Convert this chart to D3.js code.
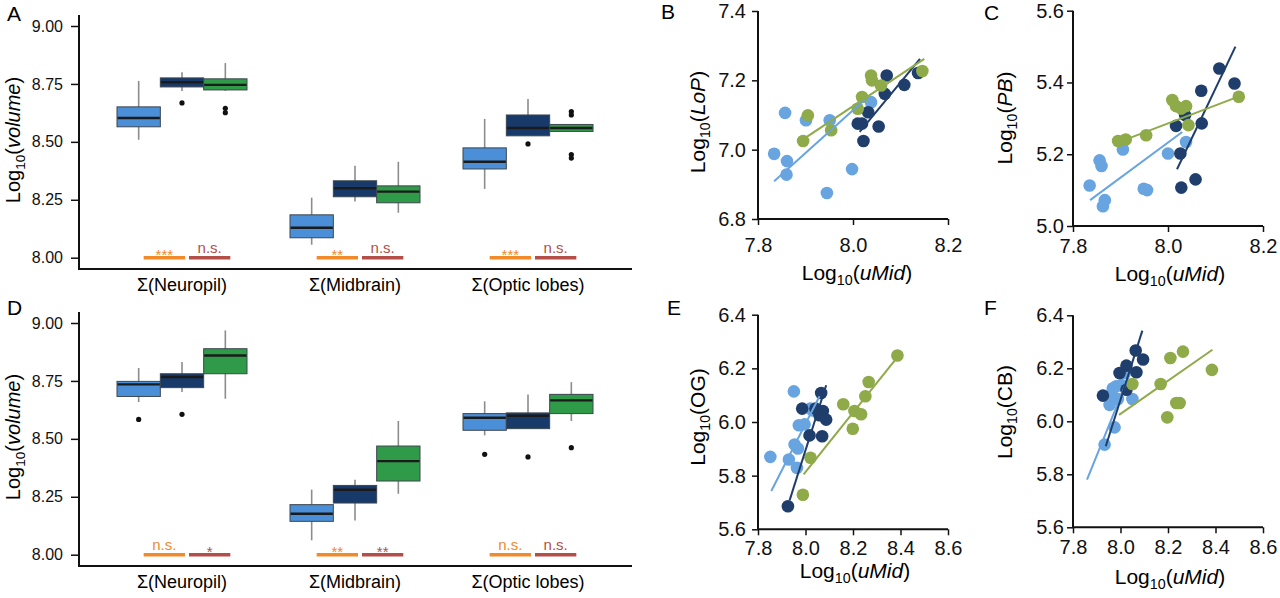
<!DOCTYPE html>
<html>
<head>
<meta charset="utf-8">
<script src="https://cdn.jsdelivr.net/npm/d3@7"></script>
<style>
  body { margin: 0; background: #fff; }
  svg { display: block; font-family: 'Liberation Sans', Arial, sans-serif; }
  .axis .domain { display: none; }
  .axis line { stroke: #111; stroke-width: 1.5; }
  .axis text { fill: #111; }
</style>
</head>
<body>
<svg id="fig" width="1280" height="598"></svg>
<script>
// ---- data ----
const CATEGORIES = ['Σ(Neuropil)', 'Σ(Midbrain)', 'Σ(Optic lobes)']
const BOX_TICKS = [8.00, 8.25, 8.50, 8.75, 9.00]

// [lower whisker, q1, median, q3, upper whisker] per category
const A_LIGHT = [[8.509, 8.565, 8.603, 8.651, 8.763], [8.056, 8.086, 8.129, 8.185, 8.259], [8.297, 8.383, 8.414, 8.474, 8.599]]
const A_DARK  = [[8.720, 8.737, 8.757, 8.776, 8.800], [8.243, 8.263, 8.300, 8.332, 8.397], [8.526, 8.526, 8.560, 8.616, 8.685]]
const A_GREEN = [[8.720, 8.724, 8.746, 8.772, 8.840], [8.194, 8.237, 8.285, 8.310, 8.414], [8.545, 8.545, 8.560, 8.575, 8.575]]
// [category index, group index, value]
const A_OUTLIERS = [[0, 1, 8.668], [0, 2, 8.645], [0, 2, 8.626], [2, 1, 8.491], [2, 2, 8.631], [2, 2, 8.616], [2, 2, 8.445], [2, 2, 8.430]]
const A_SIG = [['***', 'n.s.'], ['**', 'n.s.'], ['***', 'n.s.']]

const D_LIGHT = [[8.659, 8.683, 8.735, 8.748, 8.806], [8.062, 8.144, 8.177, 8.216, 8.281], [8.515, 8.537, 8.591, 8.609, 8.662]]
const D_DARK  = [[8.702, 8.721, 8.767, 8.781, 8.832], [8.148, 8.223, 8.280, 8.299, 8.324], [8.544, 8.544, 8.600, 8.612, 8.691]]
const D_GREEN = [[8.673, 8.781, 8.860, 8.889, 8.968], [8.263, 8.318, 8.404, 8.469, 8.577], [8.577, 8.609, 8.666, 8.692, 8.745]]
const D_OUTLIERS = [[0, 0, 8.584], [0, 1, 8.606], [2, 0, 8.433], [2, 1, 8.422], [2, 2, 8.462]]
const D_SIG = [['n.s.', '*'], ['**', '**'], ['n.s.', 'n.s.']]

// scatter panels: [log10 uMid, log10 region]
const B_LIGHT = [[7.834, 6.988], [7.857, 7.106], [7.861, 6.967], [7.860, 6.928], [7.901, 7.085], [7.951, 7.085], [7.945, 6.875], [7.998, 6.944], [8.038, 7.137]]
const B_DARK  = [[8.010, 7.075], [8.019, 7.075], [8.022, 7.025], [8.032, 7.108], [8.054, 7.067], [8.067, 7.161], [8.071, 7.214], [8.108, 7.187], [8.137, 7.221]]
const B_GREEN = [[7.895, 7.025], [7.905, 7.099], [7.954, 7.056], [8.010, 7.118], [8.019, 7.152], [8.038, 7.214], [8.040, 7.200], [8.059, 7.185], [8.146, 7.227]]
const B_FITS  = [[7.834, 6.909, 8.028, 7.148], [8.014, 7.051, 8.141, 7.262], [7.894, 7.029, 8.150, 7.262]]

const C_LIGHT = [[7.835, 5.113], [7.856, 5.183], [7.860, 5.167], [7.867, 5.072], [7.863, 5.055], [7.905, 5.213], [7.949, 5.104], [7.956, 5.100], [8.000, 5.202], [8.038, 5.234]]
const C_DARK  = [[8.017, 5.279], [8.026, 5.202], [8.028, 5.107], [8.036, 5.309], [8.058, 5.130], [8.070, 5.377], [8.071, 5.286], [8.108, 5.439], [8.140, 5.397]]
const C_GREEN = [[7.895, 5.237], [7.911, 5.241], [7.954, 5.253], [8.009, 5.351], [8.017, 5.334], [8.028, 5.327], [8.038, 5.334], [8.043, 5.281], [8.149, 5.360]]
const C_FITS  = [[7.836, 5.072, 8.030, 5.262], [8.019, 5.158, 8.142, 5.500], [7.895, 5.233, 8.147, 5.360]]

const E_LIGHT = [[7.852, 5.870], [7.951, 6.114], [7.930, 5.860], [7.954, 5.916], [7.968, 5.901], [7.964, 5.829], [7.972, 5.988], [7.996, 5.991], [8.020, 6.050], [8.031, 6.043]]
const E_DARK  = [[7.926, 5.686], [7.986, 6.050], [8.017, 5.950], [8.066, 6.108], [8.073, 6.041], [8.059, 6.025], [8.087, 6.009], [8.070, 5.947], [8.042, 6.050]]
const E_GREEN = [[7.989, 5.729], [8.021, 5.867], [8.159, 6.066], [8.199, 5.975], [8.206, 6.041], [8.234, 6.029], [8.252, 6.096], [8.266, 6.149], [8.387, 6.248]]
const E_FITS  = [[7.856, 5.743, 8.059, 6.096], [7.933, 5.708, 8.087, 6.137], [7.992, 5.805, 8.387, 6.242]]

const F_LIGHT = [[7.933, 5.912], [7.975, 5.977], [7.954, 6.062], [7.968, 6.125], [7.982, 6.132], [8.004, 6.137], [7.961, 6.103], [8.018, 6.182], [8.050, 6.084], [7.989, 6.084]]
const F_DARK  = [[7.926, 6.097], [7.996, 6.182], [8.025, 6.210], [8.025, 6.119], [8.064, 6.267], [8.095, 6.233], [8.067, 6.185]]
const F_GREEN = [[8.050, 6.141], [8.169, 6.141], [8.210, 6.239], [8.263, 6.263], [8.197, 6.015], [8.235, 6.069], [8.249, 6.069], [8.385, 6.194]]
const F_FITS  = [[7.859, 5.780, 8.039, 6.179], [7.938, 5.906, 8.092, 6.342], [7.994, 6.024, 8.387, 6.270]]

// ---- styles ----
const BOX_COLORS = ['#4a8fd8', '#183a6b', '#2f9a48']
const DOT_COLORS = ['#68a4e0', '#1f3e6b', '#8eaa49']
const SIG_COLORS = ['#f08a2a', '#b44e49']

const $svg = d3.select('#fig')

function logTitle($t, name, italic, fs){
  $t.append('tspan').text('Log')
  $t.append('tspan').attr('font-size', fs * 0.68).attr('dy', fs * 0.24).text('10')
  $t.append('tspan').attr('dy', -fs * 0.24).text('(')
  $t.append('tspan').attr('font-style', italic ? 'italic' : null).text(name)
  $t.append('tspan').text(')')
}

function letter(txt, x, y){
  $svg.append('text')
    .attr('x', x).attr('y', y)
    .attr('font-size', 21)
    .attr('fill', '#000')
    .text(txt)
}

function drawBoxPanel({top, stats, outliers, sig}){
  const $g = $svg.append('g').attr('transform', `translate(0, ${top})`)
  const y = d3.scaleLinear().domain([8, 9]).range([257.7, 26])
  const x = d3.scalePoint().domain(CATEGORIES).range([182, 528])
  const sub = d3.scaleBand().domain([0, 1, 2]).range([-65, 65])
  const bw = sub.bandwidth()
  const cx = (i, j) => x(CATEGORIES[i]) + sub(j) + bw / 2

  $g.append('g')
    .attr('class', 'axis')
    .attr('transform', 'translate(79, 0)')
    .call(d3.axisLeft(y).tickValues(BOX_TICKS).tickFormat(d3.format('.2f')).tickSize(8).tickPadding(8))
    .selectAll('text').attr('font-size', 16)

  $g.append('line').attr('x1', 79).attr('x2', 79).attr('y1', 15).attr('y2', 269)
    .attr('stroke', '#111').attr('stroke-width', 2)
  $g.append('line').attr('x1', 78).attr('x2', 632).attr('y1', 269).attr('y2', 269)
    .attr('stroke', '#111').attr('stroke-width', 2)

  const boxes = []
  stats.forEach((series, j) => series.forEach((s, i) => boxes.push({i, j, s})))

  // whiskers
  $g.selectAll('.whisker').data(boxes).enter().append('line')
    .attr('class', 'whisker')
    .attr('x1', d => cx(d.i, d.j)).attr('x2', d => cx(d.i, d.j))
    .attr('y1', d => y(d.s[0])).attr('y2', d => y(d.s[4]))
    .attr('stroke', '#8c8c8c').attr('stroke-width', 1.6)

  $g.selectAll('.box').data(boxes).enter().append('rect')
    .attr('class', 'box')
    .attr('x', d => x(CATEGORIES[d.i]) + sub(d.j))
    .attr('width', bw)
    .attr('y', d => y(d.s[3]))
    .attr('height', d => y(d.s[1]) - y(d.s[3]))
    .attr('fill', d => BOX_COLORS[d.j])
    .attr('stroke', '#3e4650').attr('stroke-width', 1)

  $g.selectAll('.median').data(boxes).enter().append('line')
    .attr('class', 'median')
    .attr('x1', d => x(CATEGORIES[d.i]) + sub(d.j) + 0.5)
    .attr('x2', d => x(CATEGORIES[d.i]) + sub(d.j) + bw - 0.5)
    .attr('y1', d => y(d.s[2])).attr('y2', d => y(d.s[2]))
    .attr('stroke', '#1b1b1b').attr('stroke-width', 2.4)

  $g.selectAll('.outlier').data(outliers).enter().append('circle')
    .attr('class', 'outlier')
    .attr('cx', d => cx(d[0], d[1]))
    .attr('cy', d => y(d[2]))
    .attr('r', 2.6)
    .attr('fill', '#111')

  // significance bars
  sig.forEach((pair, i) => {
    const spans = [[cx(i, 0) + 5, cx(i, 1) + 3], [cx(i, 1) + 7, cx(i, 2) + 5]]
    pair.forEach((lab, k) => {
      const [x1, x2] = spans[k]
      $g.append('line')
        .attr('x1', x1).attr('x2', x2)
        .attr('y1', y(8)).attr('y2', y(8))
        .attr('stroke', SIG_COLORS[k]).attr('stroke-width', 3.4)
      $g.append('text')
        .attr('x', (x1 + x2) / 2)
        .attr('y', lab === 'n.s.' ? y(8) - 5 : y(8) + 2)
        .attr('text-anchor', 'middle')
        .attr('font-size', 15)
        .attr('fill', SIG_COLORS[k])
        .text(lab)
    })
  })

  $g.selectAll('.cat').data(CATEGORIES).enter().append('text')
    .attr('class', 'cat')
    .attr('x', d => x(d))
    .attr('y', 291)
    .attr('text-anchor', 'middle')
    .attr('font-size', 18)
    .attr('fill', '#000')
    .text(d => d)

  const $yt = $g.append('text')
    .attr('transform', 'translate(13, 140) rotate(-90)')
    .attr('text-anchor', 'middle')
    .attr('dy', '0.35em')
    .attr('font-size', 20)
    .attr('fill', '#000')
  logTitle($yt, 'volume', true, 20)
}

function drawScatter(o){
  const x = d3.scaleLinear().domain(o.xDomain).range(o.xRange)
  const y = d3.scaleLinear().domain(o.yDomain).range(o.yRange)
  const $g = $svg.append('g')

  $g.append('g')
    .attr('class', 'axis')
    .attr('transform', `translate(0, ${o.yRange[0]})`)
    .call(d3.axisBottom(x).tickValues(o.xTicks).tickFormat(d3.format('.1f')).tickSize(6).tickPadding(o.xPad))
    .selectAll('text').attr('font-size', 20)
  $g.append('g')
    .attr('class', 'axis')
    .attr('transform', `translate(${o.xRange[0]}, 0)`)
    .call(d3.axisLeft(y).tickValues(o.yTicks).tickFormat(d3.format('.1f')).tickSize(6).tickPadding(o.yPad))
    .selectAll('text').attr('font-size', 20)

  $g.append('line').attr('x1', o.xRange[0]).attr('x2', o.xRange[1])
    .attr('y1', o.yRange[0]).attr('y2', o.yRange[0])
    .attr('stroke', '#111').attr('stroke-width', 2)
  $g.append('line').attr('x1', o.xRange[0]).attr('x2', o.xRange[0])
    .attr('y1', o.yRange[0]).attr('y2', o.yRange[1])
    .attr('stroke', '#111').attr('stroke-width', 2)

  o.series.forEach((pts, j) => {
    $g.selectAll(`.pt${j}`).data(pts).enter().append('circle')
      .attr('class', `pt${j}`)
      .attr('cx', d => x(d[0]))
      .attr('cy', d => y(d[1]))
      .attr('r', 6.3)
      .attr('fill', DOT_COLORS[j])
  })
  $g.selectAll('.fit').data(o.fits).enter().append('line')
    .attr('class', 'fit')
    .attr('x1', d => x(d[0])).attr('y1', d => y(d[1]))
    .attr('x2', d => x(d[2])).attr('y2', d => y(d[3]))
    .attr('stroke', (d, j) => DOT_COLORS[j])
    .attr('stroke-width', 2)

  const $xt = $g.append('text')
    .attr('x', o.xTitle[0]).attr('y', o.xTitle[1])
    .attr('text-anchor', 'middle')
    .attr('font-size', 21)
    .attr('fill', '#000')
  logTitle($xt, 'uMid', true, 21)

  const $yt = $g.append('text')
    .attr('transform', `translate(${o.yTitle[0]}, ${o.yTitle[1]}) rotate(-90)`)
    .attr('text-anchor', 'middle')
    .attr('dy', '0.35em')
    .attr('font-size', 21)
    .attr('fill', '#000')
  logTitle($yt, o.yName, o.italic, 21)
}

drawBoxPanel({top: 0, stats: [A_LIGHT, A_DARK, A_GREEN], outliers: A_OUTLIERS, sig: A_SIG})
drawBoxPanel({top: 297, stats: [D_LIGHT, D_DARK, D_GREEN], outliers: D_OUTLIERS, sig: D_SIG})

drawScatter({
  xDomain: [7.8, 8.2], xRange: [758, 948], yDomain: [6.8, 7.4], yRange: [219, 11],
  xTicks: [7.8, 8.0, 8.2], yTicks: [6.8, 7.0, 7.2, 7.4], xPad: 13, yPad: 6,
  series: [B_LIGHT, B_DARK, B_GREEN], fits: B_FITS,
  xTitle: [857, 280], yTitle: [698, 122], yName: 'LoP', italic: true
})
drawScatter({
  xDomain: [7.8, 8.2], xRange: [1073, 1263], yDomain: [5.0, 5.6], yRange: [226, 10.7],
  xTicks: [7.8, 8.0, 8.2], yTicks: [5.0, 5.2, 5.4, 5.6], xPad: 7, yPad: 3,
  series: [C_LIGHT, C_DARK, C_GREEN], fits: C_FITS,
  xTitle: [1170, 281], yTitle: [1005, 118], yName: 'PB', italic: true
})
drawScatter({
  xDomain: [7.8, 8.6], xRange: [758, 948], yDomain: [5.6, 6.4], yRange: [529.3, 314.7],
  xTicks: [7.8, 8.0, 8.2, 8.4, 8.6], yTicks: [5.6, 5.8, 6.0, 6.2, 6.4], xPad: 6, yPad: 6,
  series: [E_LIGHT, E_DARK, E_GREEN], fits: E_FITS,
  xTitle: [855, 578], yTitle: [698, 417], yName: 'OG', italic: false
})
drawScatter({
  xDomain: [7.8, 8.6], xRange: [1073, 1263], yDomain: [5.6, 6.4], yRange: [527.3, 315.3],
  xTicks: [7.8, 8.0, 8.2, 8.4, 8.6], yTicks: [5.6, 5.8, 6.0, 6.2, 6.4], xPad: 7, yPad: 3,
  series: [F_LIGHT, F_DARK, F_GREEN], fits: F_FITS,
  xTitle: [1170, 584], yTitle: [1005, 412], yName: 'CB', italic: false
})

letter('A', 7, 21)
letter('D', 7, 315)
letter('B', 661, 19)
letter('C', 984, 20)
letter('E', 667, 315)
letter('F', 984, 315)
</script>
</body>
</html>
